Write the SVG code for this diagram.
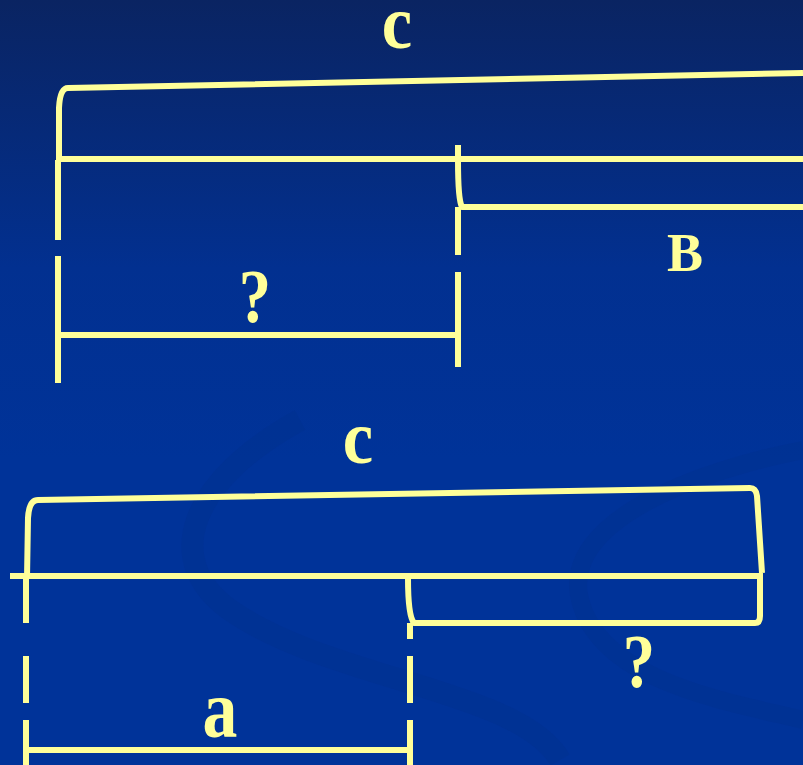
<svg xmlns="http://www.w3.org/2000/svg" width="803" height="765" viewBox="0 0 803 765">
<defs>
<linearGradient id="bg" x1="0" y1="0" x2="0" y2="1">
<stop offset="0" stop-color="#0a2462"/>
<stop offset="0.35" stop-color="#023090"/>
<stop offset="0.6" stop-color="#003399"/>
<stop offset="1" stop-color="#003399"/>
</linearGradient>
<style>
.ln{fill:none;stroke:#ffff99;stroke-width:6;stroke-linejoin:round}
.tx{font-family:"Liberation Serif","Times New Roman",serif;font-weight:bold;fill:#ffff99;text-anchor:middle}
.sw{fill:none;stroke:#00308f;stroke-opacity:0.45}
</style>
</defs>
<rect width="803" height="765" fill="url(#bg)"/>
<g id="background-swirl">
<path class="sw" stroke-width="22" d="M300,420 C190,480 160,560 230,610 C330,680 520,690 560,760"/>
<path class="sw" stroke-width="18" d="M803,450 C700,470 560,520 580,600 C600,680 720,700 803,720"/>
</g>
<g id="top-diagram">
<g id="top-c-label"><text class="tx" font-size="76" transform="translate(397,48) scale(0.9,1)">c</text></g>
<g id="top-bracket"><path class="ln" d="M59,162 L59,108 Q60,88 68,88 L803,73"/></g>
<g id="top-main-line"><path class="ln" d="M58,159 L803,159"/></g>
<g id="top-B-bar"><path class="ln" d="M458,145 L458,160 Q458,200 462,207 L803,207"/><text class="tx" x="685" y="271" font-size="54">B</text></g>
<g id="top-left-dashed"><path class="ln" d="M58,160 L58,240 M58,256 L58,383"/></g>
<g id="top-mid-dashed"><path class="ln" d="M458,207 L458,255 M458,272 L458,367"/></g>
<g id="top-question-bar"><path class="ln" d="M58,335 L458,335"/><text class="tx" font-size="76" transform="translate(255,322) scale(0.85,1)">?</text></g>
</g>
<g id="bottom-diagram">
<g id="bottom-c-label"><text class="tx" font-size="76" transform="translate(358,463) scale(0.9,1)">c</text></g>
<g id="bottom-bracket"><path class="ln" d="M27,578 L28,518 Q29,500 38,500 L750,488 Q756,488 757,496 L762,573"/></g>
<g id="bottom-main-line"><path class="ln" d="M10,576 L763,576"/></g>
<g id="bottom-question-bar"><path class="ln" d="M408,578 Q408,616 414,623 L755,623 Q760,623 760,616 L760,578"/><text class="tx" font-size="76" transform="translate(639,687) scale(0.85,1)">?</text></g>
<g id="bottom-left-dashed"><path class="ln" d="M26,578 L26,623 M26,656 L26,703 M26,720 L26,765"/></g>
<g id="bottom-mid-dashed"><path class="ln" d="M410,623 L410,639 M410,656 L410,703 M410,720 L410,765"/></g>
<g id="bottom-a-bar"><path class="ln" d="M26,750 L410,750"/><text class="tx" font-size="82" transform="translate(220,737) scale(0.85,1)">a</text></g>
</g>
</svg>
